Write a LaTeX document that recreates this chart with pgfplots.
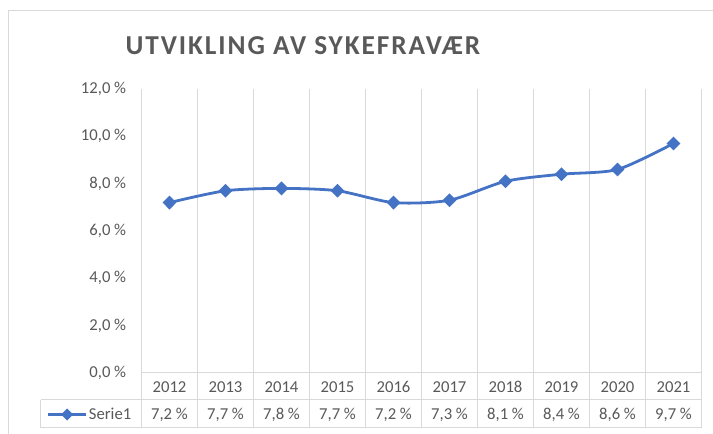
\documentclass[border=0pt]{standalone}
\usepackage{fontspec}
\setmainfont{Carlito}
\newfontfamily\titlefont[LetterSpace=7]{Carlito}
\usepackage{pgfplots}
\pgfplotsset{compat=1.18}
\definecolor{txt}{HTML}{595959}
\definecolor{grd}{HTML}{D9D9D9}
\definecolor{ser}{HTML}{4472C4}
\newcommand{\tfont}{\fontsize{12.5}{14}\selectfont}
\begin{document}
\begin{tikzpicture}
\useasboundingbox (-106.125pt,-45.75pt) rectangle (428.625pt,279.75pt);
\draw[grd, line width=0.75pt] (-100.1pt,-60pt) -- (-100.1pt,271.5pt) -- (440pt,271.5pt);
\node[font=\titlefont\bfseries\fontsize{20.5}{24}\selectfont, text=txt] at (121.1pt,245.6pt) {UTVIKLING AV SYKEFRAVÆR};
\begin{axis}[
  scale only axis, width=420pt, height=213pt,
  xmin=-0.5, xmax=9.5, ymin=0, ymax=12,
  axis line style={draw=none},
  major tick length=0pt, minor tick length=0pt,
  xtick={0,1,2,3,4,5,6,7,8,9},
  xticklabels={2012,2013,2014,2015,2016,2017,2018,2019,2020,2021},
  minor xtick={-0.5,0.5,1.5,2.5,3.5,4.5,5.5,6.5,7.5,8.5,9.5},
  xminorgrids, minor grid style={grd, line width=0.75pt},
  ytick={0,2,4,6,8,10,12},
  yticklabels={{0,0 \%},{2,0 \%},{4,0 \%},{6,0 \%},{8,0 \%},{10,0 \%},{12,0 \%}},
  ticklabel style={font=\tfont, text=txt},
  yticklabel style={anchor=east, xshift=-8pt},
  xticklabel style={anchor=center, yshift=-10.5pt},
  clip=false,
  legend image code/.code={\draw[line width=1.8pt, mark size=3.2pt, mark repeat=2,mark phase=2] plot coordinates {(0pt,0pt)(14pt,0pt)(28pt,0pt)};},
  legend style={at={(-0.1688,-0.146)}, anchor=west, draw=none, fill=none, inner sep=0pt, font=\tfont, text=txt, nodes={inner sep=1.5pt}},
]
\addplot[ser, line width=2.1pt, smooth, tension=0.45, mark=diamond*, mark size=3.7pt, mark options={xscale=1.33, solid}]
  coordinates {(0,7.2)(1,7.7)(2,7.8)(3,7.7)(4,7.2)(5,7.3)(6,8.1)(7,8.4)(8,8.6)(9,9.7)};
\legend{Serie1}
\node[font=\tfont, text=txt] at (axis cs:0,0) [yshift=-31.1pt] {7,2 \%};
\node[font=\tfont, text=txt] at (axis cs:1,0) [yshift=-31.1pt] {7,7 \%};
\node[font=\tfont, text=txt] at (axis cs:2,0) [yshift=-31.1pt] {7,8 \%};
\node[font=\tfont, text=txt] at (axis cs:3,0) [yshift=-31.1pt] {7,7 \%};
\node[font=\tfont, text=txt] at (axis cs:4,0) [yshift=-31.1pt] {7,2 \%};
\node[font=\tfont, text=txt] at (axis cs:5,0) [yshift=-31.1pt] {7,3 \%};
\node[font=\tfont, text=txt] at (axis cs:6,0) [yshift=-31.1pt] {8,1 \%};
\node[font=\tfont, text=txt] at (axis cs:7,0) [yshift=-31.1pt] {8,4 \%};
\node[font=\tfont, text=txt] at (axis cs:8,0) [yshift=-31.1pt] {8,6 \%};
\node[font=\tfont, text=txt] at (axis cs:9,0) [yshift=-31.1pt] {9,7 \%};
\end{axis}
\begin{scope}[grd, line width=0.75pt]
\draw (0pt,0pt) -- (420pt,0pt);
\draw (-75.4pt,-20.25pt) -- (420pt,-20.25pt);
\draw (-75.4pt,-41.25pt) -- (420pt,-41.25pt);
\draw (-75.4pt,-20.25pt) -- (-75.4pt,-41.25pt);
\foreach \i in {0,...,10} {\draw (\i*42pt,0pt) -- (\i*42pt,-41.25pt);}
\end{scope}
\end{tikzpicture}
\end{document}
